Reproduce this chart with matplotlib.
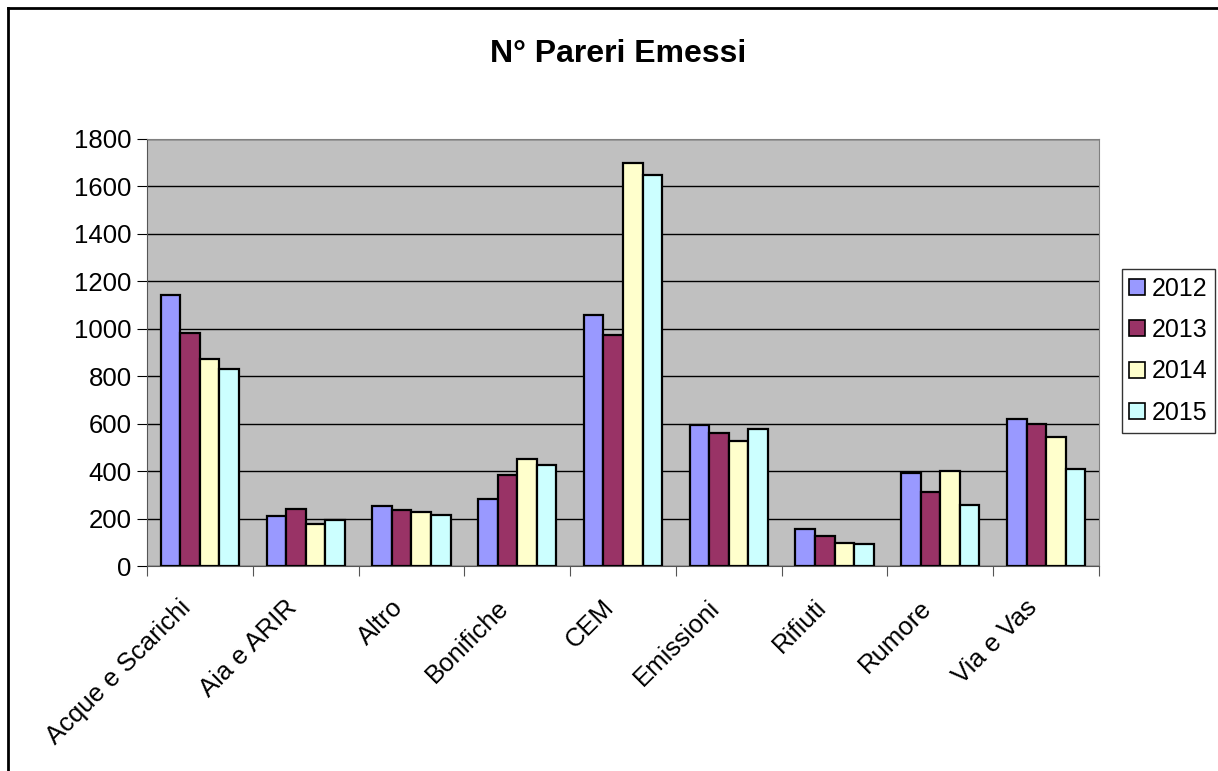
import numpy as np
import matplotlib.pyplot as plt
import matplotlib.transforms as mtransforms
from matplotlib.lines import Line2D

plt.rcParams['font.family'] = ['Liberation Sans', 'DejaVu Sans']

categories = ['Acque e Scarichi', 'Aia e ARIR', 'Altro', 'Bonifiche', 'CEM',
              'Emissioni', 'Rifiuti', 'Rumore', 'Via e Vas']
years = ['2012', '2013', '2014', '2015']
v2012 = [1142, 209, 251, 284, 1059, 595, 158, 392, 619]
v2013 = [983, 242, 234, 385, 973, 562, 126, 310, 597]
v2014 = [872, 175, 226, 452, 1700, 527, 98, 402, 543]
v2015 = [830, 192, 216, 427, 1647, 578, 91, 258, 410]
series = [v2012, v2013, v2014, v2015]
colors = ['#9999FF', '#993366', '#FFFFCC', '#CCFFFF']

fig = plt.figure(figsize=(12.18, 7.71), dpi=100)
ax = fig.add_axes([147 / 1218, 1 - 566 / 771, (1099 - 147) / 1218, (566 - 139) / 771])
ax.set_facecolor('#C0C0C0')

x = np.arange(len(categories))
w = 0.185
for i, (vals, c) in enumerate(zip(series, colors)):
    ax.bar(x + (i - 1.5) * w, vals, width=w, color=c, edgecolor='black',
           linewidth=1.6, label=years[i], zorder=3)

ax.set_xlim(-0.5, len(categories) - 0.5)
ax.set_ylim(0, 1800)
ax.set_yticks(range(0, 1801, 200))
ax.yaxis.grid(True, color='black', linewidth=1, zorder=0)
ax.set_axisbelow(True)

ax.set_xticks(np.arange(len(categories) + 1) - 0.5)
ax.set_xticklabels([])
ax.set_xticks(x, minor=True)
ax.set_xticklabels(categories, minor=True, rotation=45, ha='right', va='top',
                   rotation_mode='anchor', fontsize=18.5)
ax.tick_params(axis='x', which='minor', length=0, pad=6)
ax.tick_params(axis='x', which='major', length=7, direction='out', color='#555555')
ax.tick_params(axis='y', length=7, direction='out', labelsize=18.5, pad=4)

shift = mtransforms.ScaledTranslation(-0.21, -0.21, fig.dpi_scale_trans)
for lab in ax.get_xticklabels(minor=True):
    lab.set_transform(lab.get_transform() + shift)

for s in ['top', 'right']:
    ax.spines[s].set_color('#808080')
ax.spines['left'].set_color('#555555')
ax.spines['bottom'].set_color('#555555')

fig.text(618 / 1218, 1 - 54 / 771, 'N° Pareri Emessi', ha='center', va='center',
         fontsize=23, fontweight='bold')

handles = [Line2D([], [], marker='s', linestyle='none', markersize=11,
                  markerfacecolor=c, markeredgecolor='black', markeredgewidth=1.2)
           for c in colors]
leg = fig.legend(handles, years, loc='upper left',
                 bbox_to_anchor=(1122 / 1218, 1 - 269 / 771), fontsize=18,
                 frameon=True, fancybox=False, edgecolor='black',
                 handlelength=0.6, handletextpad=0.3, labelspacing=0.7,
                 borderpad=0.3, borderaxespad=0)
leg.get_frame().set_linewidth(1)

# outer chart border (left and top edges visible)
fig.add_artist(Line2D([8 / 1218, 8 / 1218], [0, 1 - 8 / 771], transform=fig.transFigure,
                      color='black', linewidth=2))
fig.add_artist(Line2D([8 / 1218, 1.0], [1 - 8 / 771, 1 - 8 / 771],
                      transform=fig.transFigure, color='black', linewidth=2))

fig.savefig('out.png', dpi=100)
